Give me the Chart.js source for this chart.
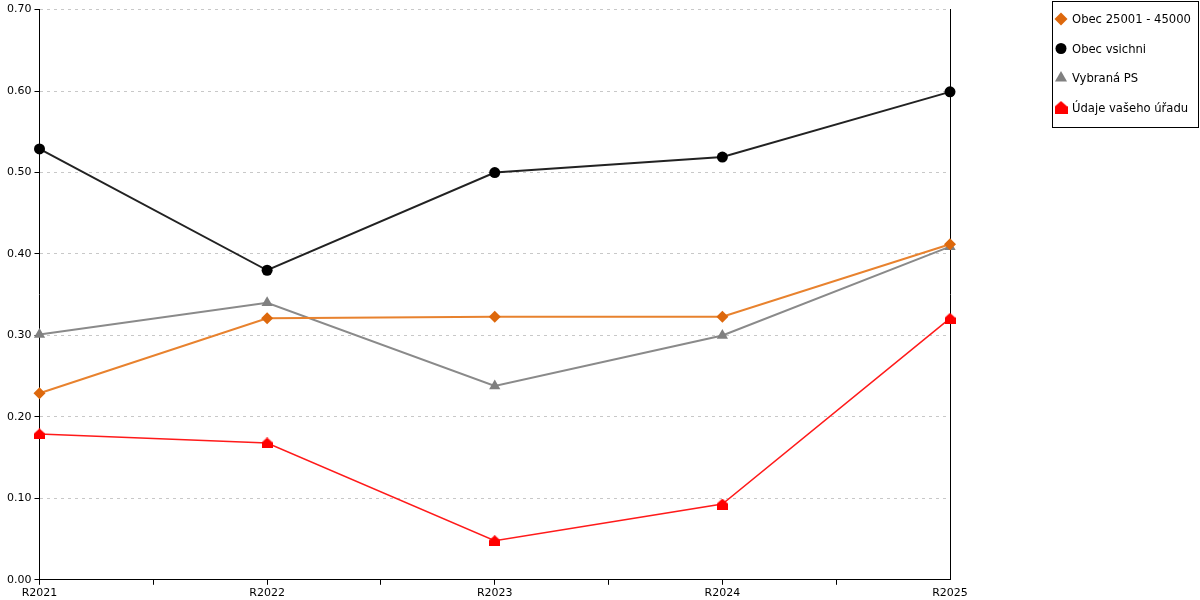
<!DOCTYPE html>
<html>
<head>
<meta charset="utf-8">
<script src="https://cdn.jsdelivr.net/npm/chart.js@4.4.1/dist/chart.umd.min.js"></script>
<style>
  html, body { margin: 0; padding: 0; background: #fff; }
  #wrap { width: 1200px; height: 600px; }
</style>
</head>
<body>
<div id="wrap"><canvas id="chartVyvoj"></canvas></div>
<script>
// ---- data ----
const YEARS = ['R2021', 'R2022', 'R2023', 'R2024', 'R2025'];
const Y_TICKS = [0, 0.1, 0.2, 0.3, 0.4, 0.5, 0.6, 0.7];

const OBEC_25001 = [0.229, 0.321, 0.323, 0.323, 0.412];
const OBEC_VSICHNI = [0.529, 0.380, 0.500, 0.519, 0.599];
const VYBRANA_PS = [0.301, 0.340, 0.238, 0.300, 0.409];
const VAS_URAD = [0.179, 0.168, 0.048, 0.093, 0.321];

const FONT = "'DejaVu Sans', Verdana, sans-serif";

// house-shaped marker (pentagon) for the red series
function houseMarker(size, color) {
  const c = document.createElement('canvas');
  c.width = size;
  c.height = size;
  const g = c.getContext('2d');
  g.fillStyle = color;
  g.beginPath();
  g.moveTo(size / 2, 0);
  g.lineTo(size, size * 0.45);
  g.lineTo(size, size);
  g.lineTo(0, size);
  g.lineTo(0, size * 0.45);
  g.closePath();
  g.fill();
  return c;
}

const toPoints = (arr) => arr.map((v, i) => ({ x: i, y: v }));

// legend drawn in a box at the top right corner
const boxLegend = {
  id: 'boxLegend',
  afterDraw(chart) {
    const ctx = chart.ctx;
    const left = 1052, top = 1, w = 146, h = 126;
    ctx.save();
    ctx.strokeStyle = '#000';
    ctx.lineWidth = 1;
    ctx.strokeRect(left + 0.5, top + 0.5, w, h);
    ctx.font = '11.6px ' + FONT;
    ctx.textBaseline = 'middle';
    chart.data.datasets.forEach((ds, i) => {
      const y = top + 18 + i * 29.5;
      const x = left + 9;
      ctx.fillStyle = ds.pointBackgroundColor;
      ctx.strokeStyle = ds.pointBackgroundColor;
      Chart.helpers.drawPoint(ctx, {
        pointStyle: ds.legendStyle || ds.pointStyle,
        radius: ds.legendRadius,
        rotation: 0,
        borderWidth: 0
      }, x, y);
      ctx.fillStyle = '#000';
      ctx.fillText(ds.label, left + 20, y + 1);
    });
    ctx.restore();
  }
};

function initChart() {
  const ctx = document.getElementById('chartVyvoj');

  new Chart(ctx, {
    type: 'line',
    data: {
      datasets: [
        {
          label: 'Obec 25001 - 45000',
          data: toPoints(OBEC_25001),
          borderColor: '#e8822e',
          borderWidth: 2,
          pointStyle: 'rectRot',
          pointRadius: 6,
          legendRadius: 6.5,
          pointBackgroundColor: '#dd680c',
          pointBorderColor: '#dd680c',
          pointBorderWidth: 0,
          tension: 0,
          clip: false
        },
        {
          label: 'Obec vsichni',
          data: toPoints(OBEC_VSICHNI),
          borderColor: '#222222',
          borderWidth: 2,
          pointStyle: 'circle',
          pointRadius: 5.5,
          legendRadius: 5.5,
          pointBackgroundColor: '#000000',
          pointBorderColor: '#000000',
          pointBorderWidth: 0,
          tension: 0,
          clip: false
        },
        {
          label: 'Vybraná PS',
          data: toPoints(VYBRANA_PS),
          borderColor: '#8a8a8a',
          borderWidth: 2,
          pointStyle: 'triangle',
          pointRadius: 6.5,
          legendRadius: 7,
          pointBackgroundColor: '#808080',
          pointBorderColor: '#808080',
          pointBorderWidth: 0,
          tension: 0,
          clip: false
        },
        {
          label: 'Údaje vašeho úřadu',
          data: toPoints(VAS_URAD),
          borderColor: '#ff1a1a',
          borderWidth: 1.5,
          pointStyle: houseMarker(11, '#ff0000'),
          legendStyle: houseMarker(13, '#ff0000'),
          pointRadius: 5.5,
          legendRadius: 6.5,
          pointBackgroundColor: '#ff0000',
          pointBorderColor: '#ff0000',
          pointBorderWidth: 0,
          tension: 0,
          clip: false
        }
      ]
    },
    options: {
      responsive: true,
      maintainAspectRatio: false,
      animation: false,
      layout: {
        padding: { left: 4, top: 6, right: 250, bottom: -2 }
      },
      plugins: {
        legend: { display: false },
        tooltip: { enabled: false }
      },
      scales: {
        x: {
          type: 'linear',
          min: 0,
          max: YEARS.length - 1,
          grid: {
            drawOnChartArea: false,
            drawTicks: true,
            tickLength: 5,
            tickColor: (c) => (c.tick && c.tick.value === YEARS.length - 1) ? 'rgba(0,0,0,0)' : '#000'
          },
          border: { color: '#000', width: 1 },
          ticks: {
            stepSize: 0.5,
            autoSkip: false,
            maxRotation: 0,
            padding: 2,
            color: '#000',
            font: { family: FONT, size: 11 },
            callback: (v) => Number.isInteger(v) ? YEARS[v] : ''
          }
        },
        y: {
          min: Y_TICKS[0],
          max: Y_TICKS[Y_TICKS.length - 1],
          afterBuildTicks: (scale) => {
            scale.ticks = Y_TICKS.map(v => ({ value: v }));
          },
          grid: {
            color: '#c8c8c8',
            tickColor: '#000',
            tickLength: 5,
            lineWidth: 1
          },
          border: { color: '#000', width: 1, dash: [3, 4] },
          ticks: {
            padding: 3,
            color: '#000',
            font: { family: FONT, size: 11 },
            callback: (v) => v.toFixed(2)
          }
        },
        yRight: {
          position: 'right',
          min: Y_TICKS[0],
          max: Y_TICKS[Y_TICKS.length - 1],
          grid: { display: false, drawTicks: false },
          border: { color: '#000', width: 1 },
          ticks: { display: false }
        }
      }
    },
    plugins: [boxLegend]
  });
}

document.addEventListener('DOMContentLoaded', initChart);
</script>
</body>
</html>
